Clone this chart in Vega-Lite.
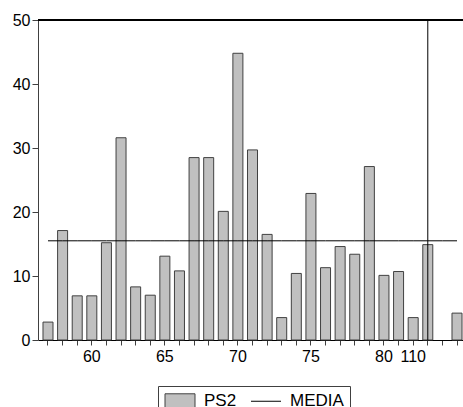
{
  "$schema": "https://vega.github.io/schema/vega-lite/v6.json",
  "width": 429,
  "height": 320,
  "autosize": {"type": "none"},
  "padding": {"left": 38, "top": 20, "right": 0, "bottom": 67},
  "background": "white",
  "config": {
    "view": {"stroke": null},
    "font": "Liberation Sans",
    "axis": {"labelFont": "Liberation Sans", "labelFontSize": 16, "labelColor": "black", "domainColor": "#404040", "tickColor": "#404040", "grid": false, "title": null}
  },
  "data": {
    "values": [
      {"obs": "57", "ps2": 2.8, "media": 15.5},
      {"obs": "58", "ps2": 17.1, "media": 15.5},
      {"obs": "59", "ps2": 6.9, "media": 15.5},
      {"obs": "60", "ps2": 6.9, "media": 15.5},
      {"obs": "61", "ps2": 15.2, "media": 15.5},
      {"obs": "62", "ps2": 31.6, "media": 15.5},
      {"obs": "63", "ps2": 8.3, "media": 15.5},
      {"obs": "64", "ps2": 7.0, "media": 15.5},
      {"obs": "65", "ps2": 13.1, "media": 15.5},
      {"obs": "66", "ps2": 10.8, "media": 15.5},
      {"obs": "67", "ps2": 28.5, "media": 15.5},
      {"obs": "68", "ps2": 28.5, "media": 15.5},
      {"obs": "69", "ps2": 20.1, "media": 15.5},
      {"obs": "70", "ps2": 44.8, "media": 15.5},
      {"obs": "71", "ps2": 29.7, "media": 15.5},
      {"obs": "72", "ps2": 16.5, "media": 15.5},
      {"obs": "73", "ps2": 3.5, "media": 15.5},
      {"obs": "74", "ps2": 10.4, "media": 15.5},
      {"obs": "75", "ps2": 22.9, "media": 15.5},
      {"obs": "76", "ps2": 11.3, "media": 15.5},
      {"obs": "77", "ps2": 14.6, "media": 15.5},
      {"obs": "78", "ps2": 13.4, "media": 15.5},
      {"obs": "79", "ps2": 27.1, "media": 15.5},
      {"obs": "80", "ps2": 10.1, "media": 15.5},
      {"obs": "81", "ps2": 10.7, "media": 15.5},
      {"obs": "110", "ps2": 3.5, "media": 15.5},
      {"obs": "111", "ps2": 14.9, "media": 15.5},
      {"obs": "112", "ps2": null, "media": 15.5},
      {"obs": "113", "ps2": 4.2, "media": 15.5}
    ]
  },
  "layer": [
    {
      "mark": {"type": "bar", "fill": "#c0c0c0", "stroke": "#404040", "strokeWidth": 1},
      "encoding": {
        "x": {
          "field": "obs", "type": "ordinal",
          "scale": {"domain": ["57","58","59","60","61","62","63","64","65","66","67","68","69","70","71","72","73","74","75","76","77","78","79","80","81","110","111","112","113"], "paddingInner": 0.315, "paddingOuter": 0.342},
          "axis": {"labelAngle": 0, "tickSize": 5, "labelPadding": 3, "labelOverlap": false, "domainColor": "black",
                   "labelExpr": "indexof(['60','65','70','75','80','110'], datum.value) >= 0 ? datum.value : ''"}
        },
        "y": {
          "field": "ps2", "type": "quantitative",
          "scale": {"domain": [0, 50], "nice": false},
          "axis": {"values": [0, 10, 20, 30, 40, 50], "tickSize": 6, "labelPadding": 2}
        }
      }
    },
    {
      "mark": {"type": "line", "color": "black", "strokeWidth": 1},
      "encoding": {
        "x": {"field": "obs", "type": "ordinal"},
        "y": {"field": "media", "type": "quantitative"}
      }
    },
    {
      "mark": {"type": "rule", "color": "black", "strokeWidth": 1},
      "encoding": {"y": {"datum": 50}}
    },
    {
      "transform": [{"filter": "datum.obs == '111'"}],
      "mark": {"type": "rule", "color": "black", "strokeWidth": 1},
      "encoding": {"x": {"field": "obs", "type": "ordinal"}}
    },
    {
      "data": {"values": [{"serie": "PS2"}, {"serie": "MEDIA"}]},
      "transform": [{"filter": "false"}],
      "mark": {"type": "point", "filled": true, "opacity": 1},
      "encoding": {
        "shape": {
          "field": "serie", "type": "nominal",
          "scale": {"domain": ["PS2", "MEDIA"], "range": ["M-1,-0.93H3V0.93H-1Z", "M-1,0H3"]},
          "legend": {"orient": "none", "legendX": 120, "legendY": 366, "direction": "horizontal", "title": null, "strokeColor": "#404040", "fillColor": "white", "padding": 6, "labelFont": "Liberation Sans", "labelFontSize": 17, "labelColor": "black", "symbolSize": 225, "symbolStrokeWidth": 1, "labelOffset": 23, "columnPadding": 12}
        },
        "fill": {
          "field": "serie", "type": "nominal",
          "scale": {"domain": ["PS2", "MEDIA"], "range": ["#c0c0c0", "black"]},
          "legend": {"orient": "none", "legendX": 120, "legendY": 366, "direction": "horizontal", "title": null, "strokeColor": "#404040", "fillColor": "white", "padding": 6, "labelFont": "Liberation Sans", "labelFontSize": 17, "labelColor": "black", "symbolSize": 225, "symbolStrokeWidth": 1, "labelOffset": 23, "columnPadding": 12}
        },
        "stroke": {
          "field": "serie", "type": "nominal",
          "scale": {"domain": ["PS2", "MEDIA"], "range": ["#404040", "black"]},
          "legend": {"orient": "none", "legendX": 120, "legendY": 366, "direction": "horizontal", "title": null, "strokeColor": "#404040", "fillColor": "white", "padding": 6, "labelFont": "Liberation Sans", "labelFontSize": 17, "labelColor": "black", "symbolSize": 225, "symbolStrokeWidth": 1, "labelOffset": 23, "columnPadding": 12}
        }
      }
    }
  ]
}
